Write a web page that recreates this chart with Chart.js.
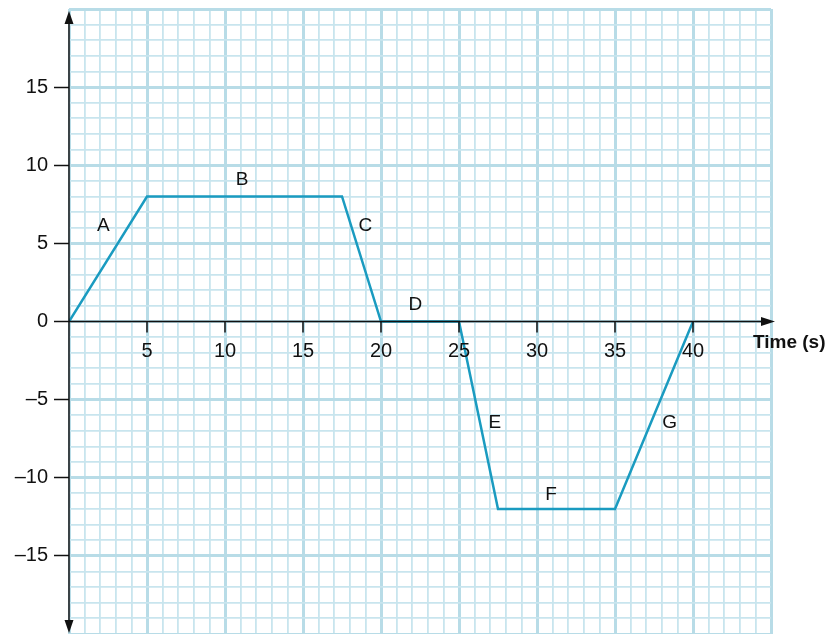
<!DOCTYPE html>
<html>
<head>
<meta charset="utf-8">
<script src="https://cdn.jsdelivr.net/npm/chart.js@4.4.1/dist/chart.umd.min.js"></script>
<style>
  html, body { margin: 0; padding: 0; background: #fff; }
  #wrap { width: 835px; height: 634px; position: relative; }
</style>
</head>
<body>
<div id="wrap"><canvas id="motion-chart"></canvas></div>
<script>
// data
const timeValues = [0, 5, 17.5, 20, 25, 27.5, 35, 40];
const velocityValues = [0, 8, 8, 0, 0, -12, -12, 0];

// segment letters and where they sit (data units)
const segLabels = ['A', 'B', 'C', 'D', 'E', 'F', 'G'];
const segLabelX = [2.2, 11.1, 19.0, 22.2, 27.3, 30.9, 38.5];
const segLabelY = [6.1, 9.1, 6.1, 1.1, -6.5, -11.1, -6.5];

// tick labels
const xTicks = [5, 10, 15, 20, 25, 30, 35, 40];
const yTicks = [15, 10, 5, 0, -5, -10, -15];
const xTitle = 'Time (s)';

const LINE = '#1a9bc0';
const GRID_MINOR = '#c8e5ee';
const GRID_MAJOR = '#b8dce7';
const FONT = '"Liberation Sans", Arial, Helvetica, sans-serif';

function fmt(v) {
  return v < 0 ? '\u2013' + Math.abs(v) : String(v);
}

const points = timeValues.map((t, i) => ({ x: t, y: velocityValues[i] }));

// axes, arrows, x labels and segment letters
const overlay = {
  id: 'overlay',
  afterDraw(chart) {
    const { ctx, chartArea, scales } = chart;
    const x = scales.x, y = scales.y;
    const x0 = x.getPixelForValue(0);
    const y0 = y.getPixelForValue(0);
    ctx.save();
    ctx.strokeStyle = '#111';
    ctx.fillStyle = '#111';
    ctx.lineWidth = 1.5;

    // y axis
    ctx.beginPath();
    ctx.moveTo(x0, chartArea.top + 6);
    ctx.lineTo(x0, chartArea.bottom - 4);
    ctx.stroke();
    ctx.beginPath();
    ctx.moveTo(x0, chartArea.top + 2);
    ctx.lineTo(x0 - 4.5, chartArea.top + 15);
    ctx.lineTo(x0 + 4.5, chartArea.top + 15);
    ctx.closePath();
    ctx.fill();
    ctx.beginPath();
    ctx.moveTo(x0, chartArea.bottom - 1);
    ctx.lineTo(x0 - 4.5, chartArea.bottom - 14);
    ctx.lineTo(x0 + 4.5, chartArea.bottom - 14);
    ctx.closePath();
    ctx.fill();

    // x axis
    const xEnd = chartArea.right + 2;
    ctx.beginPath();
    ctx.moveTo(x0, y0);
    ctx.lineTo(xEnd - 6, y0);
    ctx.stroke();
    ctx.beginPath();
    ctx.moveTo(xEnd + 2, y0);
    ctx.lineTo(xEnd - 12, y0 - 4.5);
    ctx.lineTo(xEnd - 12, y0 + 4.5);
    ctx.closePath();
    ctx.fill();

    // x ticks and labels
    ctx.font = '20px ' + FONT;
    ctx.textAlign = 'center';
    ctx.textBaseline = 'middle';
    xTicks.forEach((v) => {
      const px = x.getPixelForValue(v);
      ctx.beginPath();
      ctx.moveTo(px, y0);
      ctx.lineTo(px, y0 + 11);
      ctx.stroke();
      ctx.fillText(String(v), px, y0 + 30);
    });

    ctx.font = 'bold 19px ' + FONT;
    ctx.textAlign = 'left';
    ctx.fillText(xTitle, chartArea.right - 18, y0 + 21);

    // segment letters
    ctx.font = '19px ' + FONT;
    ctx.textAlign = 'center';
    segLabels.forEach((s, i) => {
      ctx.fillText(s, x.getPixelForValue(segLabelX[i]), y.getPixelForValue(segLabelY[i]));
    });
    ctx.restore();
  },
};

new Chart(document.getElementById('motion-chart'), {
  type: 'line',
  data: {
    datasets: [
      {
        data: points,
        borderColor: LINE,
        borderWidth: 2.5,
        pointRadius: 0,
        tension: 0,
        fill: false,
      },
    ],
  },
  options: {
    responsive: true,
    maintainAspectRatio: false,
    devicePixelRatio: 1,
    animation: false,
    layout: { padding: { left: 0, top: 9, right: 64, bottom: 0 } },
    plugins: {
      legend: { display: false },
      tooltip: { enabled: false },
    },
    scales: {
      x: {
        type: 'linear',
        min: 0,
        max: 45,
        ticks: { display: false, stepSize: 1 },
        border: { display: false },
        grid: {
          drawTicks: false,
          color: (c) => (c.tick && c.tick.value % 5 === 0 ? GRID_MAJOR : GRID_MINOR),
          lineWidth: (c) => (c.tick && c.tick.value % 5 === 0 ? 3 : 1.8),
        },
        afterFit: (scale) => {
          scale.height = 0;
          scale.paddingLeft = 0;
          scale.paddingRight = 0;
        },
      },
      y: {
        min: -20,
        max: 20,
        ticks: {
          stepSize: 1,
          autoSkip: false,
          padding: 6,
          color: '#111',
          font: { family: FONT, size: 20 },
          callback: (v) => (yTicks.includes(v) ? fmt(v) : ''),
        },
        border: { display: false },
        grid: {
          tickLength: 15,
          tickWidth: 1.5,
          tickColor: (c) => (c.tick && yTicks.includes(c.tick.value) ? '#111' : 'rgba(0,0,0,0)'),
          color: (c) => (c.tick && c.tick.value % 5 === 0 ? GRID_MAJOR : GRID_MINOR),
          lineWidth: (c) => (c.tick && c.tick.value % 5 === 0 ? 3 : 1.8),
        },
        afterFit: (scale) => {
          scale.width = 69;
          scale.paddingTop = 0;
          scale.paddingBottom = 0;
        },
      },
    },
  },
  plugins: [overlay],
});
</script>
</body>
</html>
